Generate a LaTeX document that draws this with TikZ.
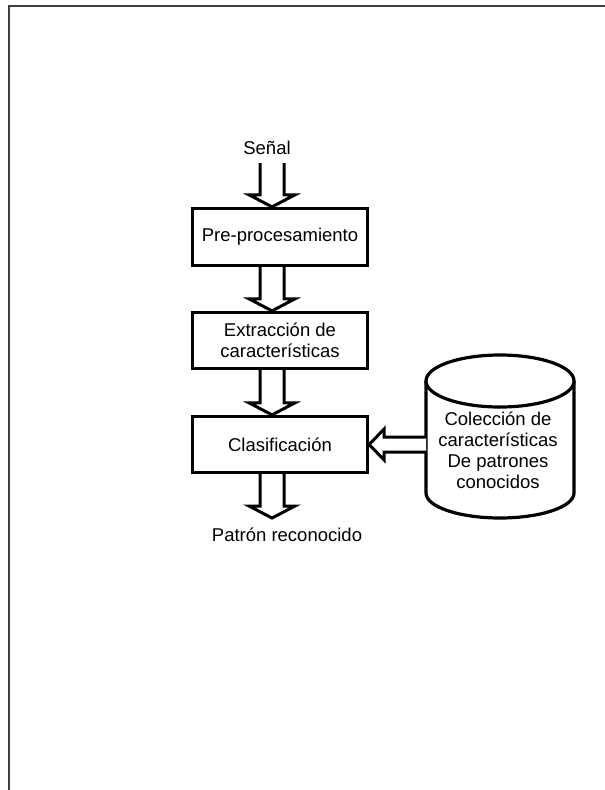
\documentclass[tikz,border=0pt]{standalone}
\usepackage{fontspec}
\setmainfont{Liberation Sans}
\usetikzlibrary{calc}
\newcommand\bdarrow[2]{\draw[barrow] let \p1=(#1), \p2=(#2) in
  (\x1-12pt,\y1) -- (\x1-12pt,\y2+12pt) -- (\x1-23pt,\y2+12pt) -- (\x1,\y2)
  -- (\x1+23pt,\y2+12pt) -- (\x1+12pt,\y2+12pt) -- (\x1+12pt,\y1);}
\begin{document}
\begin{tikzpicture}[x=1pt,y=-1pt,
  box/.style={draw, line width=3.3pt, fill=white, minimum width=175pt, minimum height=57pt,
    align=center, font=\fontsize{18.5}{21}\selectfont, inner sep=0pt},
  barrow/.style={draw, line width=3pt, fill=white, line join=miter},
  lbl/.style={font=\fontsize{18.5}{21}\selectfont, inner sep=0pt, align=center},
  cyl/.style={draw, line width=3.2pt, fill=white}]
\useasboundingbox (0,0) rectangle (605,790);
\draw[black!75, line width=1.8pt] (9,790) -- (9,6) -- (605,6);

% labels
\node[lbl] (sig) at (267,148) {Señal};
\node[lbl] (out) at (287,535) {Patrón reconocido};

% helper coordinates
\coordinate (ax) at (272,0);
\coordinate (s1) at (272,163);
\coordinate (outtip) at (272,518);
\coordinate (cylw) at (426,444.5);

% boxes (positions)
\path (280,237) coordinate (pre-c) (280,340.5) coordinate (ext-c) (280,444.5) coordinate (clas-c);
\node[box] (pre) at (pre-c) {Pre-procesamiento};
\node[box, minimum height=56pt] (ext) at (ext-c) {Extracción de\\características};
\node[box, minimum height=56pt] (clas) at (clas-c) {Clasificación};

% block arrows
\bdarrow{s1}{ax |- pre.north}
\bdarrow{ax |- pre.south}{ax |- ext.north}
\bdarrow{ax |- ext.south}{ax |- clas.north}
\bdarrow{ax |- clas.south}{outtip}

% cylinder
\draw[cyl] (426,381) -- (426,493) arc[start angle=180, end angle=360, x radius=74pt, y radius=25pt] -- (574,381);
\draw[cyl] (500,381) ellipse [x radius=74pt, y radius=26pt];
\node[lbl] (db) at (498,450) {Colección de\\características\\De patrones\\conocidos};

% horizontal arrow from cylinder to Clasificación
\draw[barrow] let \p1=(cylw), \p2=(clas.east) in
  (\x1,\y1+7.5pt) -- (\x2+15pt,\y1+7.5pt) -- (\x2+15pt,\y1+15.5pt) -- (\x2,\y2)
  -- (\x2+15pt,\y1-15.5pt) -- (\x2+15pt,\y1-7.5pt) -- (\x1,\y1-7.5pt);
\end{tikzpicture}
\end{document}
